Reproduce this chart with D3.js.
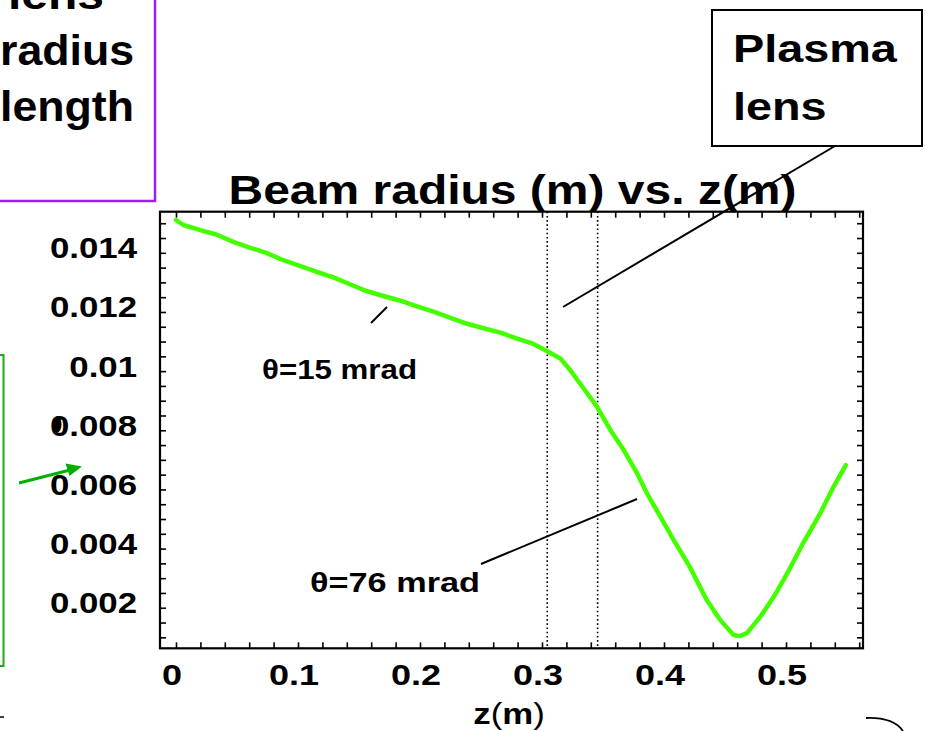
<!DOCTYPE html>
<html><head><meta charset="utf-8">
<script src="https://cdn.jsdelivr.net/npm/d3@7"></script>
<style>
body{margin:0;background:#fff;overflow:hidden}
svg{display:block}
text{font-family:"Liberation Sans",Arial,Helvetica,sans-serif;font-weight:bold;fill:#000}
</style>
</head><body>
<svg id="c" width="926" height="731"></svg>
<script>
// ---- data ----
const zValues = [0.000,0.006,0.020,0.033,0.047,0.061,0.074,0.088,0.102,0.115,0.129,0.143,0.156,0.170,0.184,0.197,0.211,0.225,0.238,0.252,0.266,0.279,0.293,0.304,0.315,0.323,0.331,0.345,0.356,0.367,0.378,0.386,0.397,0.408,0.421,0.435,0.446,0.457,0.462,0.468,0.479,0.490,0.501,0.514,0.528,0.539,0.549];
const radiusValues = [0.01511,0.01494,0.01477,0.01462,0.01437,0.01417,0.01400,0.01375,0.01355,0.01336,0.01317,0.01293,0.01271,0.01254,0.01238,0.01220,0.01201,0.01180,0.01161,0.01145,0.01130,0.01111,0.01092,0.01068,0.01043,0.01004,0.00959,0.00880,0.00801,0.00733,0.00654,0.00587,0.00508,0.00429,0.00339,0.00226,0.00159,0.00108,0.00104,0.00114,0.00170,0.00237,0.00316,0.00418,0.00519,0.00609,0.00682];
const xTickLabels = [0, 0.1, 0.2, 0.3, 0.4, 0.5];
const yTickLabels = [0.002, 0.004, 0.006, 0.008, 0.01, 0.012, 0.014];
const lensEdges = [0.3043, 0.3456];
const titleText = "Beam radius (m) vs. z(m)";

// ---- layout ----
const svg = d3.select("#c");
const L = 160, R = 863, T = 211.7, B = 648.3;
const x = d3.scaleLinear().domain([-0.01311, 0.56311]).range([L, R]);
const y = d3.scaleLinear().domain([0.000629, 0.01539]).range([B, T]);
const SX = 1.2;

function txt(g, px, py, str, size, anchor) {
  return g.append("text")
    .attr("transform", `translate(${px},${py}) scale(${SX},1)`)
    .attr("text-anchor", anchor)
    .style("font-size", size + "px")
    .text(str);
}
function fit(g, px, py, str, size, len) {
  return g.append("text").attr("x", px).attr("y", py)
    .attr("textLength", len).attr("lengthAdjust", "spacingAndGlyphs")
    .style("font-size", size + "px").text(str);
}

// ---- side boxes ----
svg.append("rect").attr("x", -10).attr("y", -10).attr("width", 165).attr("height", 211)
  .attr("fill", "none").attr("stroke", "#9b1cff").attr("stroke-width", 2.5);
const pg = svg.append("g");
fit(pg, 8, 9, "lens", 42, 96);
fit(pg, 0, 65, "radius", 42, 134);
fit(pg, 0, 121, "length", 42, 134);

svg.append("rect").attr("x", -10).attr("y", 355).attr("width", 13.5).attr("height", 311)
  .attr("fill", "none").attr("stroke", "#1aaa1a").attr("stroke-width", 2);

// ---- plot frame & axes ----
const xMinor = d3.range(0, 0.5601, 0.02);
const yMinor = d3.range(0.001, 0.01501, 0.0005);
const axG = svg.append("g");
axG.append("g").attr("transform", `translate(0,${B})`)
  .call(d3.axisBottom(x).tickValues(xMinor).tickSizeInner(-6).tickSizeOuter(0).tickFormat(""));
axG.append("g").attr("transform", `translate(0,${T})`)
  .call(d3.axisTop(x).tickValues(xMinor).tickSizeInner(-6).tickSizeOuter(0).tickFormat(""));
axG.append("g").attr("transform", `translate(${L},0)`)
  .call(d3.axisLeft(y).tickValues(yMinor).tickSizeInner(-6).tickSizeOuter(0).tickFormat(""));
axG.append("g").attr("transform", `translate(${R},0)`)
  .call(d3.axisRight(y).tickValues(yMinor).tickSizeInner(-6).tickSizeOuter(0).tickFormat(""));
axG.selectAll(".domain").remove();
axG.selectAll(".tick line").attr("stroke", "#000").attr("stroke-width", 1.6);

svg.append("rect").attr("x", L).attr("y", T).attr("width", R - L).attr("height", B - T)
  .attr("fill", "none").attr("stroke", "#000").attr("stroke-width", 2.2);

const lab = svg.append("g");
xTickLabels.forEach(v => txt(lab, x(v) - 4, 685, String(v), 30, "middle"));
yTickLabels.forEach(v => txt(lab, 137, y(v) + 5.5, String(v), 29, "end"));
// overprint blob on the 0.008 label, as in the reference
lab.append("ellipse").attr("cx", 57.5).attr("cy", y(0.008) - 6).attr("rx", 4).attr("ry", 8).attr("fill", "#000");

// z(m) axis label
const zl = lab.append("text").attr("transform", "translate(509,724) scale(1.2,1)")
  .attr("text-anchor", "middle").style("font-size", "29px");
zl.append("tspan").text("z");
zl.append("tspan").style("font-weight", "normal").text("(");
zl.append("tspan").text("m");
zl.append("tspan").style("font-weight", "normal").text(")");

// lens edges
svg.selectAll(".edge").data(lensEdges).enter().append("line")
  .attr("x1", d => x(d)).attr("x2", d => x(d)).attr("y1", T).attr("y2", B)
  .attr("stroke", "#000").attr("stroke-width", 1.6).attr("stroke-dasharray", "1.6,2.6");

// beam radius curve
const pts = zValues.map((z, i) => [z, radiusValues[i]]);
svg.append("path").datum(pts)
  .attr("d", d3.line().x(d => x(d[0])).y(d => y(d[1])))
  .attr("fill", "none").attr("stroke", "#44ff00").attr("stroke-width", 4.5)
  .attr("stroke-linejoin", "round").attr("stroke-linecap", "round");

// ---- annotations ----
const an = svg.append("g");
txt(an, 512.5, 204, titleText, 40, "middle");

an.append("rect").attr("x", 712).attr("y", 10).attr("width", 210).attr("height", 136)
  .attr("fill", "#fff").attr("stroke", "#000").attr("stroke-width", 2);
txt(an, 733, 62, "Plasma", 39, "start");
txt(an, 733, 120, "lens", 39, "start");

const ln = (x1, y1, x2, y2, c = "#000", w = 2) => an.append("line")
  .attr("x1", x1).attr("y1", y1).attr("x2", x2).attr("y2", y2)
  .attr("stroke", c).attr("stroke-width", w);
ln(835, 146, 563, 307);
ln(371, 323, 387, 307);
ln(481, 564, 637, 499);

fit(an, 262, 379, "θ=15 mrad", 28, 155);
fit(an, 310, 592, "θ=76 mrad", 28, 170);

// green arrow
an.append("line").attr("x1", 19).attr("y1", 483).attr("x2", 70).attr("y2", 470)
  .attr("stroke", "#00b000").attr("stroke-width", 3);
an.append("path").attr("d", "M82,466.5 L65.5,463.5 L69.5,476 Z").attr("fill", "#00b000");

// stray marks at bottom
an.append("path").attr("d", "M0,717 L4,717").attr("stroke", "#000").attr("stroke-width", 1.5);
an.append("path").attr("d", "M866,718 Q893,717 903,731").attr("fill", "none")
  .attr("stroke", "#000").attr("stroke-width", 1.8);
</script>
</body></html>
